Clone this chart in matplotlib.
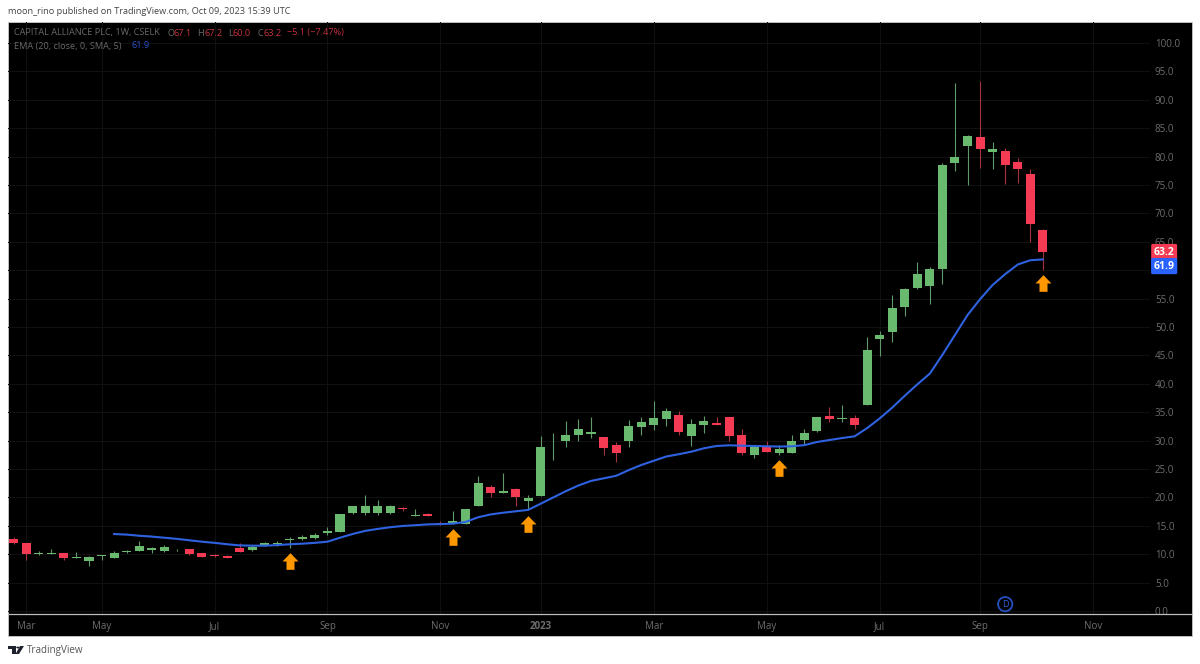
import matplotlib
matplotlib.use('Agg')
import matplotlib.pyplot as plt
from matplotlib.lines import Line2D
from matplotlib.patches import Polygon, Rectangle, Circle
from matplotlib.path import Path
from matplotlib.transforms import blended_transform_factory

# Weekly candles
opens = [12.67, 11.91, 10.1, 10.1, 10.15, 9.4, 8.8, 9.7, 9.4, 10.4,
         10.6, 10.7, 10.5, 10.7, 10.85, 10.15, 9.9, 9.75, 11.1, 10.7,
         11.45, 11.85, 12.45, 12.6, 12.85, 13.8, 13.85, 17.3, 17.3, 17.3,
         17.2, 18.1, 16.8, 17.1, 15.45, 15.3, 15.35, 18.5, 21.9, 20.85,
         21.5, 19.45, 20.3, 28.8, 29.9, 30.9, 31.1, 30.7, 29.3, 29.87,
         32.45, 32.8, 33.8, 34.45, 30.85, 32.7, 33.1, 34.15, 30.9, 27.5,
         28.9, 27.9, 27.8, 30.1, 31.7, 34.3, 33.75, 33.9, 36.3, 47.9,
         49.2, 53.5, 56.8, 57.3, 60.3, 78.9, 81.8, 83.4, 80.8, 80.9,
         79.0, 77.0, 67.1]
highs = [12.97, 11.91, 10.5, 10.9, 10.15, 10.4, 9.7, 9.85, 10.55, 10.7,
         12.4, 11.2, 11.55, 10.95, 10.85, 10.15, 10.0, 9.85, 12.0, 11.55,
         12.2, 12.4, 13.05, 13.4, 13.8, 14.85, 17.0, 18.55, 20.4, 19.55,
         18.6, 18.25, 18.0, 17.25, 15.85, 17.6, 17.9, 23.8, 22.2, 24.25,
         21.7, 20.35, 30.8, 31.4, 33.5, 33.8, 34.2, 30.7, 29.8, 33.6,
         34.2, 37.0, 35.7, 35.25, 33.8, 34.3, 34.1, 34.15, 32.0, 29.2,
         29.95, 29.2, 31.0, 32.0, 34.15, 36.0, 36.25, 34.5, 48.2, 49.35,
         55.65, 56.85, 61.4, 60.5, 78.8, 92.95, 83.8, 93.4, 82.6, 81.6,
         79.8, 77.9, 67.2]
lows = [11.8, 8.97, 9.9, 10.1, 9.0, 9.4, 8.0, 9.0, 9.4, 10.15,
        10.55, 10.25, 10.45, 10.5, 9.85, 9.5, 9.55, 9.35, 10.4, 10.55,
        11.45, 11.45, 11.15, 12.5, 12.6, 13.4, 13.85, 17.0, 16.9, 16.9,
        17.1, 17.6, 16.8, 16.65, 15.15, 15.3, 15.35, 18.5, 20.0, 20.85,
        18.5, 18.0, 20.3, 26.6, 28.8, 30.0, 30.4, 27.5, 26.3, 28.8,
        31.05, 31.85, 32.6, 31.0, 29.05, 31.4, 32.8, 30.0, 27.45, 26.9,
        27.95, 27.5, 27.8, 29.2, 31.45, 33.3, 33.3, 32.05, 36.3, 44.9,
        47.35, 52.0, 56.65, 54.05, 57.5, 77.45, 74.95, 78.05, 77.8, 75.2,
        75.4, 65.0, 60.0]
closes = [11.91, 10.09, 10.2, 10.2, 9.4, 9.5, 9.5, 9.85, 10.15, 10.5,
          11.45, 11.05, 11.3, 10.8, 10.1, 9.55, 9.7, 9.4, 10.4, 11.25,
          12.05, 12.05, 12.65, 13.0, 13.45, 14.0, 17.0, 18.55, 18.45, 18.45,
          18.45, 17.9, 16.9, 16.8, 15.3, 15.9, 17.9, 22.5, 20.85, 21.15,
          20.0, 19.95, 28.9, 28.95, 31.0, 32.0, 31.5, 28.75, 27.75, 32.57,
          33.2, 33.9, 35.15, 31.5, 32.9, 33.45, 32.8, 30.75, 27.8, 28.9,
          27.95, 28.5, 30.0, 31.3, 34.15, 33.85, 33.9, 32.8, 45.9, 48.65,
          53.3, 56.75, 59.4, 60.3, 78.5, 79.9, 83.7, 81.35, 81.35, 78.5,
          77.9, 68.15, 63.2]

# EMA starts at week 8
ema_start = 8
ema = [13.55, 13.45, 13.25, 13.1, 12.9, 12.7, 12.45, 12.2, 12.0, 11.75,
       11.55, 11.5, 11.5, 11.6, 11.75, 11.85, 12.0, 12.2, 12.9, 13.55,
       14.1, 14.45, 14.75, 14.97, 15.1, 15.25, 15.3, 15.38, 15.67, 16.5,
       17.0, 17.3, 17.55, 17.8, 18.9, 20.0, 21.1, 22.1, 22.9, 23.35,
       23.8, 24.8, 25.7, 26.45, 27.2, 27.6, 28.05, 28.65, 29.05, 29.17,
       29.1, 29.05, 29.0, 28.95, 29.0, 29.2, 29.75, 30.1, 30.45, 30.75,
       32.2, 33.9, 35.8, 37.9, 39.9, 41.8, 45.1, 48.6, 52.1, 54.9,
       57.4, 59.3, 61.0, 61.75, 61.9]

month_idx = [1, 7, 16, 25, 34, 42, 51, 60, 69, 77, 86]
month_labels = ['Mar', 'May', 'Jul', 'Sep', 'Nov', '2023', 'Mar', 'May', 'Jul', 'Sep', 'Nov']
price_ticks = [5.0 * i for i in range(21)]

arrow_idx = [22, 35, 41, 61, 82]
arrow_val = [8.8, 12.96, 15.3, 25.2, 57.7]

last_close = 63.2
last_ema = 61.9
dividend_idx = 79
dividend_val = 1.2

GREEN = '#69b96e'
RED = '#f43b53'
GREEN_WICK = '#5f9a69'
RED_WICK = '#a8333f'
BLUE = '#2f62e0'
ORANGE = '#ff9800'
GRID = '#101010'
AXIS_TEXT = '#6e6e6e'
FONT = 'Open Sans'

W, H = 1200, 664
plt.rcParams['font.family'] = FONT


# Pixel box in the picture to figure fractions
def px_box(x0, y0, x1, y1):
    return [x0 / W, 1 - y1 / H, (x1 - x0) / W, (y1 - y0) / H]


fig = plt.figure(figsize=(W / 100, H / 100), dpi=100, facecolor='white')

# Black panel behind the chart
fig.add_artist(Rectangle((8 / W, 1 - 636 / H), 1184 / W, 614 / H, transform=fig.transFigure,
                         facecolor='black', edgecolor='#c8c8c8', linewidth=0.6, zorder=-1))

ax = fig.add_axes(px_box(8, 22, 1150, 614))
ax.patch.set_alpha(0)
ax.set_xlim(-0.454, 90.54)
ax.set_ylim(-0.53, 103.7)
for spine in ax.spines.values():
    spine.set_visible(False)

ax.set_axisbelow(True)
ax.grid(True, color=GRID, linewidth=0.8)
ax.yaxis.tick_right()
ax.set_yticks(price_ticks)
ax.set_yticklabels([f'{p:.1f}' for p in price_ticks])
ax.set_xticks(month_idx)
ax.set_xticklabels(month_labels)
ax.tick_params(axis='y', length=0, pad=3.5, labelsize=7, labelcolor=AXIS_TEXT)
ax.tick_params(axis='x', length=0, pad=5, labelsize=7, labelcolor=AXIS_TEXT)
ax.get_xticklabels()[5].set_fontweight('bold')

# Candles
for i in range(len(opens)):
    up = closes[i] >= opens[i]
    ax.vlines(i, lows[i], highs[i], color=GREEN_WICK if up else RED_WICK, linewidth=0.8, zorder=2)
    ax.bar(i, abs(closes[i] - opens[i]), bottom=min(opens[i], closes[i]), width=0.72,
           color=GREEN if up else RED, linewidth=0, zorder=3)

ax.plot(range(ema_start, ema_start + len(ema)), ema, color=BLUE, linewidth=1.5, zorder=4)

# Orange arrows
arrow_marker = Path([(-0.48, -1), (0.48, -1), (0.48, 0), (0.96, 0), (0, 1), (-0.96, 0), (-0.48, 0), (-0.48, -1)], closed=True)
ax.scatter(arrow_idx, arrow_val, marker=arrow_marker, s=144, color=ORANGE, linewidths=0, zorder=5)

# Dividend marker
ax.scatter([dividend_idx], [dividend_val], s=105, facecolor='none', edgecolor='#2450c0', linewidths=1.3, zorder=5)
ax.text(dividend_idx, dividend_val, 'D', color='#2f62e0', fontsize=6.5, ha='center', va='center', zorder=6)

# Last value tags on the price scale
tag_trans = blended_transform_factory(ax.transAxes, ax.transData)
ax.annotate(f'{last_close}', xy=(1, last_close), xycoords=tag_trans, xytext=(10.2, 0), textcoords='offset points',
            ha='center', va='center', color='white', fontsize=7.5, fontweight='bold', zorder=10, annotation_clip=False,
            bbox=dict(boxstyle='round,pad=0.25,rounding_size=0.15', facecolor=RED, edgecolor='none'))
ax.annotate(f'{last_ema}', xy=(1, last_ema), xycoords=tag_trans, xytext=(10.2, -4.8), textcoords='offset points',
            ha='center', va='center', color='white', fontsize=7.5, fontweight='bold', zorder=10, annotation_clip=False,
            bbox=dict(boxstyle='round,pad=0.25,rounding_size=0.15', facecolor='#2962ff', edgecolor='none'))

# Line between chart and time scale
fig.add_artist(Line2D([8 / W, 1192 / W], [1 - 614 / H, 1 - 614 / H], color='#bdbdbd', linewidth=0.9))


def label(x, y, text, color, size=6.6, **kwargs):
    fig.text(x / W, 1 - y / H, text, color=color, fontsize=size, va='center', **kwargs)


# Header
label(8, 12, 'moon_rino published on TradingView.com, Oct 09, 2023 15:39 UTC', '#444444')

# Legend rows
LEGEND_GREY = '#6a6a6a'
LEGEND_RED = '#c8323f'
label(14, 33, 'CAPITAL ALLIANCE PLC, 1W, CSELK', LEGEND_GREY)
for x, head, value_x, value in [(167, 'O', 174, '67.1'), (197, 'H', 204, '67.2'), (228, 'L', 233, '60.0'), (257, 'C', 263, '63.2')]:
    label(x, 33, head, LEGEND_GREY)
    label(value_x, 33, value, LEGEND_RED)
label(287, 33, '\u22125.1 (\u22127.47%)', LEGEND_RED)
label(14, 46, 'EMA (20, close, 0, SMA, 5)', LEGEND_GREY)
label(131, 46, '61.9', '#2a55d0')

# Footer logo and name
logo = [Rectangle((8 / W, 1 - 649 / H), 7.5 / W, 3 / H),
        Rectangle((12 / W, 1 - 654 / H), 3.5 / W, 5 / H),
        Polygon([(20 / W, 1 - 646 / H), (24 / W, 1 - 646 / H), (19 / W, 1 - 654 / H), (15.5 / W, 1 - 654 / H)]),
        Circle((17.8 / W, 1 - 647.5 / H), 1.6 / W)]
for part in logo:
    part.set_transform(fig.transFigure)
    part.set_facecolor('#1e222d')
    part.set_edgecolor('none')
    fig.add_artist(part)
label(27, 650, 'TradingView', '#555555', size=7.1)

fig.savefig('out.png', dpi=100, facecolor='white')
